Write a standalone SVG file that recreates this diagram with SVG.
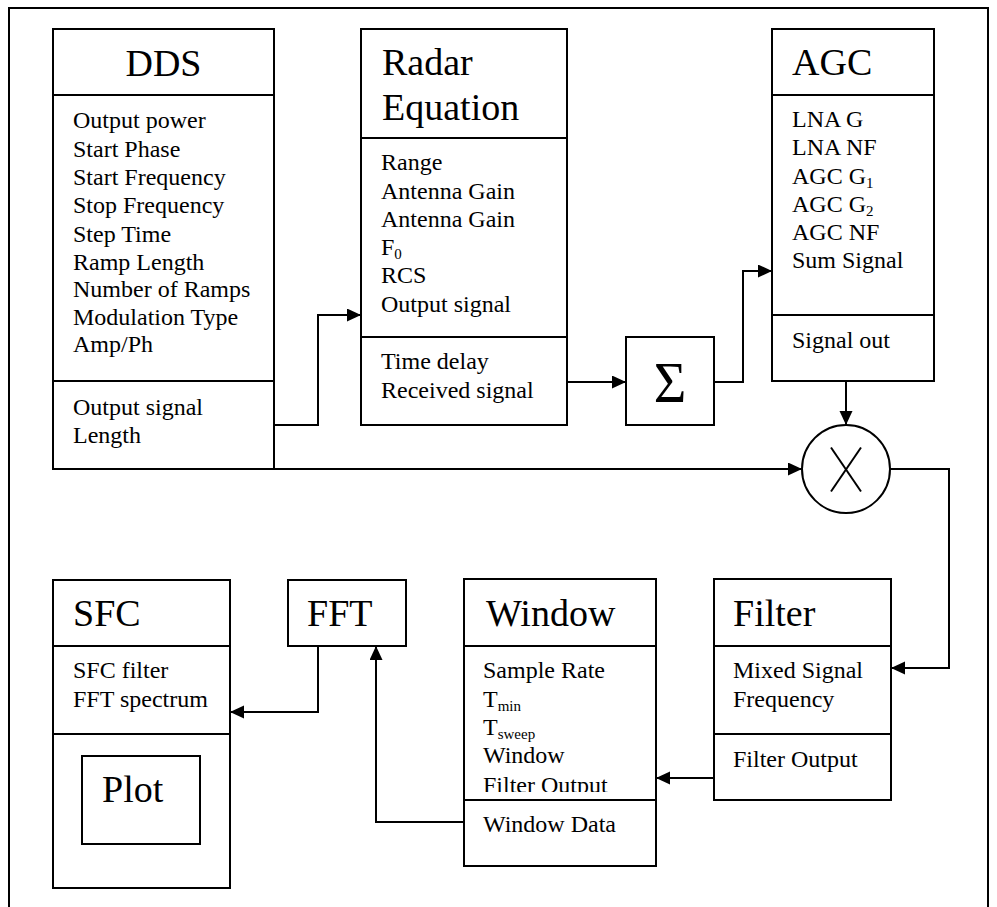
<svg xmlns="http://www.w3.org/2000/svg" width="997" height="907" viewBox="0 0 997 907">
<style>
  .box { fill: #fff; stroke: #000; stroke-width: 2; }
  .div { stroke: #000; stroke-width: 2; fill: none; }
  .conn { stroke: #000; stroke-width: 2; fill: none; marker-end: url(#arr); }
  .plain { stroke: #000; stroke-width: 2; fill: none; }
  .title { font-family: "Liberation Serif", "Times New Roman", serif; font-size: 38px; fill: #000; }
  .body { font-family: "Liberation Serif", "Times New Roman", serif; font-size: 24px; fill: #000; }
  .sub { font-size: 15px; }
</style>
<defs>
  <marker id="arr" markerUnits="userSpaceOnUse" markerWidth="14" markerHeight="14" refX="14" refY="6.5" orient="auto">
    <path d="M0,0 L14,6.5 L0,13 Z" fill="#000"/>
  </marker>
  <clipPath id="winclip"><rect x="464" y="646" width="192" height="146"/></clipPath>
</defs>
<rect x="0" y="0" width="997" height="907" fill="#fff"/>
<rect x="9" y="8" width="979" height="920" fill="none" stroke="#000" stroke-width="2"/>

<g id="connectors">
  <path class="conn" d="M274,425 H318 V315 H361"/>
  <path class="conn" d="M567,382 H626"/>
  <path class="conn" d="M714,382 H743 V271 H772"/>
  <path class="conn" d="M846,381 V425"/>
  <path class="conn" d="M274,469 H802"/>
  <path class="conn" d="M890,469 H949 V668 H891"/>
  <path class="conn" d="M714,778 H656"/>
  <path class="conn" d="M464,822 H376 V646"/>
  <path class="conn" d="M318,646 V712 H230"/>
</g>

<g id="dds">
  <rect class="box" x="53" y="29" width="221" height="440"/>
  <line class="div" x1="53" y1="95" x2="274" y2="95"/>
  <line class="div" x1="53" y1="381" x2="274" y2="381"/>
  <text class="title" x="163.5" y="76" text-anchor="middle">DDS</text>
  <text class="body" x="73" y="128">Output power</text>
  <text class="body" x="73" y="156.5">Start Phase</text>
  <text class="body" x="73" y="185">Start Frequency</text>
  <text class="body" x="73" y="213">Stop Frequency</text>
  <text class="body" x="73" y="241.5">Step Time</text>
  <text class="body" x="73" y="269.5">Ramp Length</text>
  <text class="body" x="73" y="296.5">Number of Ramps</text>
  <text class="body" x="73" y="324.5">Modulation Type</text>
  <text class="body" x="73" y="352">Amp/Ph</text>
  <text class="body" x="73" y="415">Output signal</text>
  <text class="body" x="73" y="443">Length</text>
</g>

<g id="radar">
  <rect class="box" x="361" y="29" width="206" height="396"/>
  <line class="div" x1="361" y1="138" x2="567" y2="138"/>
  <line class="div" x1="361" y1="337" x2="567" y2="337"/>
  <text class="title" x="382" y="75">Radar</text>
  <text class="title" x="382" y="120">Equation</text>
  <text class="body" x="381" y="170">Range</text>
  <text class="body" x="381" y="199">Antenna Gain</text>
  <text class="body" x="381" y="227">Antenna Gain</text>
  <text class="body" x="381" y="255">F<tspan class="sub" dy="4">0</tspan></text>
  <text class="body" x="381" y="283">RCS</text>
  <text class="body" x="381" y="312">Output signal</text>
  <text class="body" x="381" y="369">Time delay</text>
  <text class="body" x="381" y="398">Received signal</text>
</g>

<g id="sum">
  <rect class="box" x="626" y="337" width="88" height="88"/>
  <text x="670" y="402" text-anchor="middle" font-family="Liberation Serif, Times New Roman, serif" font-size="56">Σ</text>
</g>

<g id="agc">
  <rect class="box" x="772" y="29" width="162" height="352"/>
  <line class="div" x1="772" y1="95" x2="934" y2="95"/>
  <line class="div" x1="772" y1="315" x2="934" y2="315"/>
  <text class="title" x="792" y="75">AGC</text>
  <text class="body" x="792" y="127">LNA G</text>
  <text class="body" x="792" y="155">LNA NF</text>
  <text class="body" x="792" y="183.5">AGC G<tspan class="sub" dy="4">1</tspan></text>
  <text class="body" x="792" y="211.5">AGC G<tspan class="sub" dy="4">2</tspan></text>
  <text class="body" x="792" y="239.5">AGC NF</text>
  <text class="body" x="792" y="268">Sum Signal</text>
  <text class="body" x="792" y="348">Signal out</text>
</g>

<g id="mixer">
  <circle cx="846" cy="469" r="44" fill="#fff" stroke="#000" stroke-width="2"/>
  <line class="plain" x1="831" y1="447.5" x2="861" y2="491.5"/>
  <line class="plain" x1="861" y1="447.5" x2="831" y2="491.5"/>
</g>

<g id="filter">
  <rect class="box" x="714" y="579" width="177" height="221"/>
  <line class="div" x1="714" y1="646" x2="891" y2="646"/>
  <line class="div" x1="714" y1="734" x2="891" y2="734"/>
  <text class="title" x="733" y="626">Filter</text>
  <text class="body" x="733" y="678">Mixed Signal</text>
  <text class="body" x="733" y="707">Frequency</text>
  <text class="body" x="733" y="767">Filter Output</text>
</g>

<g id="window">
  <rect class="box" x="464" y="579" width="192" height="287"/>
  <text class="title" x="486" y="626">Window</text>
  <g clip-path="url(#winclip)">
    <text class="body" x="483" y="678">Sample Rate</text>
    <text class="body" x="483" y="707">T<tspan class="sub" dy="4">min</tspan></text>
    <text class="body" x="483" y="735">T<tspan class="sub" dy="4">sweep</tspan></text>
    <text class="body" x="483" y="763">Window</text>
    <text class="body" x="483" y="793">Filter Output</text>
  </g>
  <line class="div" x1="464" y1="646" x2="656" y2="646"/>
  <line class="div" x1="464" y1="800" x2="656" y2="800"/>
  <text class="body" x="483" y="832">Window Data</text>
</g>

<g id="fft">
  <rect class="box" x="288" y="580" width="118" height="66"/>
  <text class="title" x="307" y="626">FFT</text>
</g>

<g id="sfc">
  <rect class="box" x="53" y="580" width="177" height="308"/>
  <line class="div" x1="53" y1="646" x2="230" y2="646"/>
  <line class="div" x1="53" y1="734" x2="230" y2="734"/>
  <text class="title" x="73" y="626">SFC</text>
  <text class="body" x="73" y="678">SFC filter</text>
  <text class="body" x="73" y="707">FFT spectrum</text>
  <g id="plot">
    <rect class="box" x="82" y="756" width="118" height="88"/>
    <text class="title" x="102" y="802">Plot</text>
  </g>
</g>
</svg>
